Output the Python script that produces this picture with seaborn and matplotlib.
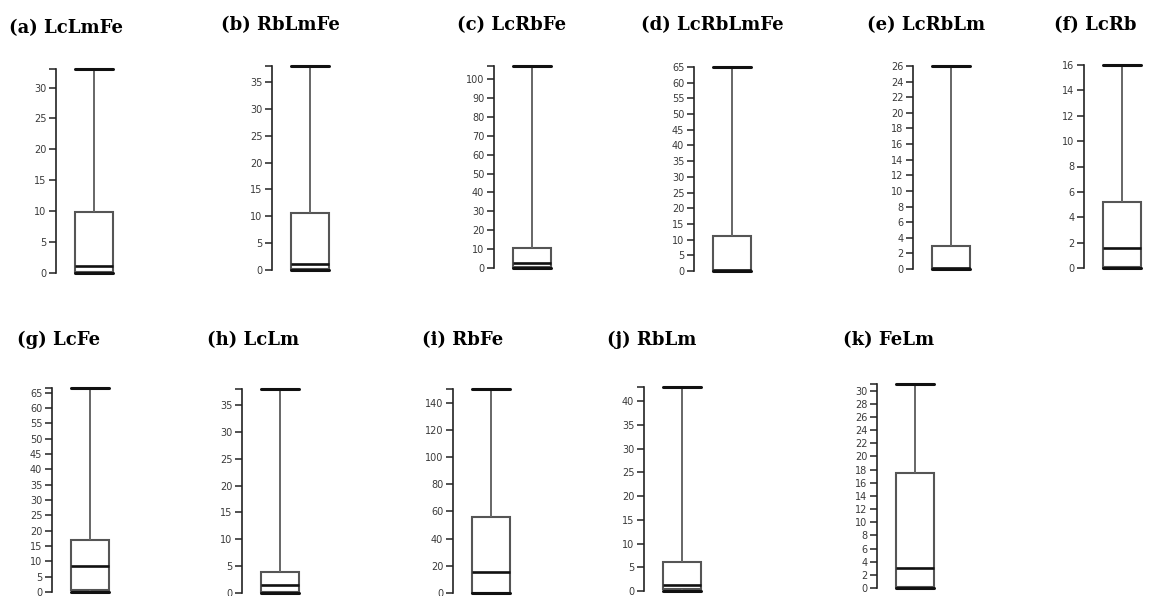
import numpy as np
import pandas as pd
import matplotlib
matplotlib.use("Agg")
import matplotlib.pyplot as plt
import seaborn as sns

# --- Data: five-number summaries ---
panels = ["(a) LcLmFe", "(b) RbLmFe", "(c) LcRbFe", "(d) LcRbLmFe", "(e) LcRbLm", "(f) LcRb",
          "(g) LcFe", "(h) LcLm", "(i) RbFe", "(j) RbLm", "(k) FeLm"]
mins = [0, 0, 0, 0, 0, 0, 0, 0, 0, 0, 0]
q1s = [0.1, 0.2, 0.7, 0.0, 0.0, 0.1, 0.6, 0.2, 0.2, 0.4, 0.1]
medians = [1.2, 1.1, 2.5, 0.2, 0.1, 1.55, 8.5, 1.5, 15.3, 1.2, 3.1]
q3s = [9.9, 10.7, 10.5, 11.1, 2.9, 5.2, 16.9, 4.0, 56.2, 6.1, 17.5]
maxs = [33, 38, 107, 65, 26, 16, 66.5, 38, 150, 43, 31]
tick_steps = [5, 5, 10, 5, 2, 2, 5, 5, 20, 5, 2]

# --- Layout (pixels): spine x, y of max, y of zero, title x, title y ---
W, H = 1153, 596
spine_x = [56, 272, 494, 694, 913, 1084, 52, 242, 453, 644, 877]
top_y = [69, 66, 66, 67, 66, 65, 388, 389, 389, 387, 384]
zero_y = [273, 270, 268, 271, 269, 268, 592, 593, 593, 591, 588]
title_x = [9, 221, 457, 641, 867, 1054, 17, 207, 422, 607, 843]
title_y = [28, 25, 25, 25, 25, 25, 340, 340, 340, 340, 340]

sns.set_style("white")
fig = plt.figure(figsize=(W / 100, H / 100), dpi=100)

for i, name in enumerate(panels):
    left = spine_x[i] / W
    bottom = 1 - zero_y[i] / H
    height = (zero_y[i] - top_y[i]) / H
    ax = fig.add_axes([left, bottom, 76 / W, height])

    vals = pd.DataFrame({"value": [mins[i], q1s[i], medians[i], q3s[i], maxs[i]]})
    sns.boxplot(data=vals, y="value", ax=ax, whis=(0, 100), width=0.8,
                capwidths=0.8,
                boxprops=dict(facecolor="white", edgecolor="#555555", linewidth=1.5),
                whiskerprops=dict(color="#666666", linewidth=1.4),
                capprops=dict(color="#111111", linewidth=2.2),
                medianprops=dict(color="#111111", linewidth=1.9),
                showfliers=False)

    # keep the lines sitting on zero fully visible
    for art in ax.lines + ax.patches:
        art.set_clip_on(False)

    ax.set_xlim(-0.8, 0.8)
    ax.set_ylim(0, maxs[i])
    ax.set_yticks(np.arange(0, maxs[i] + 0.01, tick_steps[i]))
    ax.set_yticks([maxs[i]], minor=True)  # outer tick at the top of the axis
    ax.tick_params(axis="y", which="both", length=5, width=1.1, color="#222222",
                   labelsize=7, labelcolor="#3a3a3a", pad=2, left=True)
    ax.set_xticks([])
    ax.set_xlabel("")
    ax.set_ylabel("")
    for s in ["top", "right", "bottom"]:
        ax.spines[s].set_visible(False)
    ax.spines["left"].set_color("#222222")
    ax.spines["left"].set_linewidth(1.2)
    ax.patch.set_alpha(0)

    fig.text(title_x[i] / W, 1 - title_y[i] / H, name, fontsize=13,
             fontweight="bold", family="DejaVu Serif", color="black",
             va="center", ha="left")

fig.savefig("out.png", dpi=100)
